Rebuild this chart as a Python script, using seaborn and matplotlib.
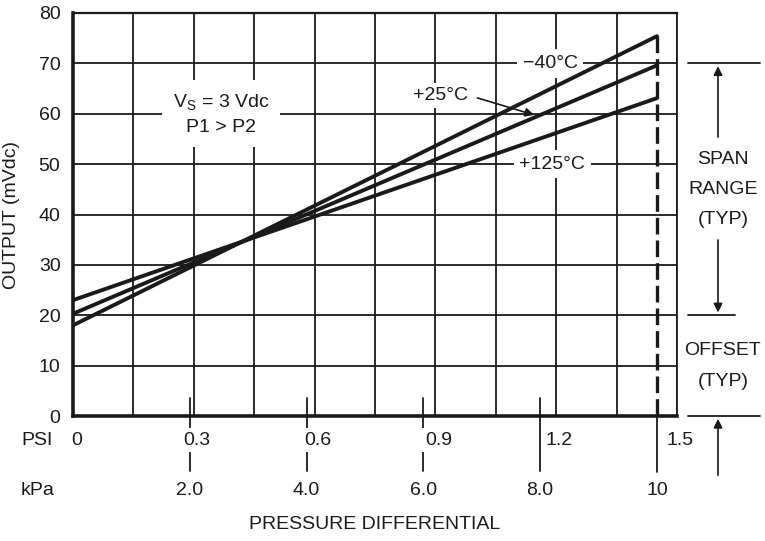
import numpy as np
import pandas as pd
import matplotlib
matplotlib.use("Agg")
import matplotlib.pyplot as plt
import seaborn as sns

# Values (output in mVdc vs pressure in kPa)
pressure_kpa = [0.0, 10.0]
output_m40 = [18.0, 75.4]
output_p25 = [20.3, 69.6]
output_p125 = [23.0, 63.1]
temp_labels = ["\u221240\u00b0C", "+25\u00b0C", "+125\u00b0C"]

psi_ticks = [0.3, 0.6, 0.9, 1.2, 1.5]
psi_labels = ["0.3", "0.6", "0.9", "1.2", "1.5"]
kpa_ticks = [2.0, 4.0, 6.0, 8.0, 10.0]
kpa_labels = ["2.0", "4.0", "6.0", "8.0", "10"]
y_ticks = [0, 10, 20, 30, 40, 50, 60, 70, 80]

span_top = 70
offset_typ = 20
KPA_PER_PSI = 6.895

# Style
sns.set_theme(style="white")
plt.rcParams["font.family"] = ["Liberation Sans", "DejaVu Sans"]
plt.rcParams["mathtext.fontset"] = "custom"
plt.rcParams["mathtext.rm"] = "Liberation Sans"
INK = "#1a1a1a"
FS = 14

# Long-form frame for seaborn
rows = []
for lab, vals in zip(temp_labels, [output_m40, output_p25, output_p125]):
    for p, v in zip(pressure_kpa, vals):
        rows.append({"psi": p / KPA_PER_PSI, "output": v, "temp": lab})
df = pd.DataFrame(rows)

fig = plt.figure(figsize=(7.65, 5.41), dpi=100, facecolor="white")
ax = fig.add_axes([0.0954, 0.231, 0.7895, 0.745])
ax.set_axisbelow(True)

sns.lineplot(data=df, x="psi", y="output", hue="temp", palette=[INK] * 3,
             linewidth=2.8, legend=False, ax=ax, zorder=3)

# Grid: 10 columns of 0.15 psi, rows of 10 mV
ax.set_xlim(0, 1.5)
ax.set_ylim(0, 80)
ax.set_xticks(np.arange(0, 1.51, 0.15))
ax.set_yticks(y_ticks)
ax.set_xticklabels([])
ax.grid(True, color=INK, linewidth=1.3)
ax.tick_params(axis="both", length=0)
ax.tick_params(axis="y", pad=9, labelsize=FS, labelcolor=INK)
ax.set_xlabel("")
ax.set_ylabel("")
fig.text(12 / 765, 1 - 215 / 541, "OUTPUT (mVdc)", rotation=90, ha="center", va="center",
         fontsize=FS, color=INK)
for side, lw in [("left", 2.6), ("bottom", 2.6), ("top", 1.6), ("right", 1.3)]:
    ax.spines[side].set_color(INK)
    ax.spines[side].set_linewidth(lw)
    ax.spines[side].set_zorder(4)

# kPa tick marks below the axis, full-scale dashed marker at 10 kPa
x_full = pressure_kpa[-1] / KPA_PER_PSI
for k in kpa_ticks[:-1]:
    ax.plot([k / KPA_PER_PSI] * 2, [3.6, -11.0], color=INK, lw=1.3, clip_on=False, zorder=1)
ax.plot([x_full] * 2, [output_m40[-1], 0], color=INK, lw=2.4, ls=(0, (5, 1.8)), zorder=4)
ax.plot([x_full] * 2, [0, -11.2], color=INK, lw=1.3, clip_on=False)

# Secondary scale labels
ax.text(-0.089, -4.8, "PSI", ha="center", va="center", fontsize=FS, color=INK, clip_on=False)
ax.text(-0.089, -14.7, "kPa", ha="center", va="center", fontsize=FS, color=INK, clip_on=False)
ax.text(0.01, -4.8, "0", ha="center", va="center", fontsize=FS, color=INK, clip_on=False)
for p, lab in zip(psi_ticks, psi_labels):
    ax.text(p + 0.008, -4.8, lab, ha="center", va="center", fontsize=FS, color=INK,
            clip_on=False, bbox=dict(facecolor="white", edgecolor="none", pad=2.5), zorder=5)
for k, lab in zip(kpa_ticks, kpa_labels):
    ax.text(k / KPA_PER_PSI, -14.7, lab, ha="center", va="center", fontsize=FS,
            color=INK, clip_on=False)
ax.text(0.75, -21.6, "PRESSURE DIFFERENTIAL", ha="center", va="center", fontsize=FS,
        color=INK, clip_on=False)

# In-plot labels (white boxes break the grid but sit under the curves)
box = dict(facecolor="white", edgecolor="none", pad=4)
ax.text(0.3675, 59.9, "V$_\\mathregular{S}$ = 3 Vdc\nP1 > P2", ha="center", va="center",
        fontsize=FS, color=INK, linespacing=1.5,
        bbox=dict(facecolor="white", edgecolor="none", pad=8), zorder=2)
ax.text(1.185, 70, temp_labels[0], ha="center", va="center", fontsize=FS, color=INK,
        bbox=box, zorder=2)
ax.text(0.914, 63.7, temp_labels[1], ha="center", va="center", fontsize=FS, color=INK,
        bbox=dict(facecolor="white", edgecolor="none", pad=3), zorder=2)
ax.annotate("", xy=(1.152, 59.6), xytext=(0.998, 63.3),
            arrowprops=dict(arrowstyle="-|>", color=INK, lw=1.2, mutation_scale=13), zorder=6)
ax.text(1.19, 50, temp_labels[2], ha="center", va="center", fontsize=FS, color=INK,
        bbox=box, zorder=2)

# Span / offset dimension marks on the right
xa = 1.602
ax.plot([1.527, 1.706], [span_top] * 2, color=INK, lw=1.3, clip_on=False)
ax.plot([1.527, 1.644], [offset_typ] * 2, color=INK, lw=1.3, clip_on=False)
ax.plot([1.527, 1.706], [0, 0], color=INK, lw=1.3, clip_on=False)
arrow = dict(arrowstyle="-|>", color=INK, lw=1.2, mutation_scale=13)
ax.annotate("", xy=(xa, span_top), xytext=(xa, 54.8), arrowprops=arrow, annotation_clip=False)
ax.annotate("", xy=(xa, offset_typ), xytext=(xa, 35.5), arrowprops=arrow, annotation_clip=False)
ax.annotate("", xy=(xa, 0), xytext=(xa, -12.3), arrowprops=arrow, annotation_clip=False)
ax.text(1.614, 45.0, "SPAN\nRANGE\n(TYP)", ha="center", va="center", fontsize=FS,
        color=INK, linespacing=2.0, clip_on=False)
ax.text(1.614, 9.9, "OFFSET\n(TYP)", ha="center", va="center", fontsize=FS,
        color=INK, linespacing=2.1, clip_on=False)

fig.savefig("out.png", dpi=100, facecolor="white")
